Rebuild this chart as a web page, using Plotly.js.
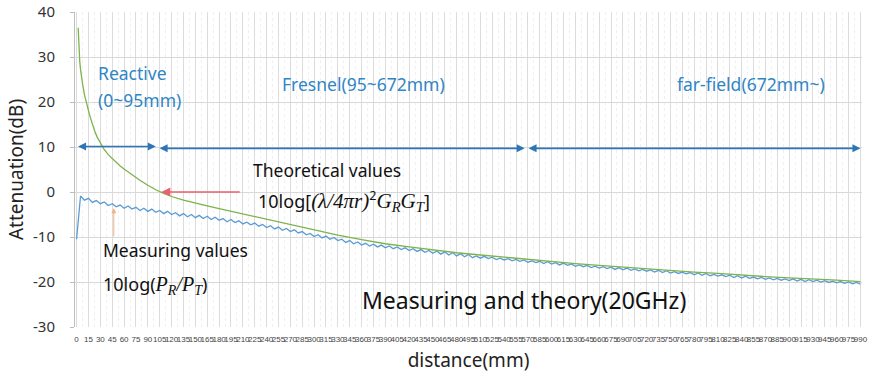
<!DOCTYPE html>
<html>
<head>
<meta charset="utf-8">
<script src="https://cdn.plot.ly/plotly-3.0.1.min.js"></script>
<style>html,body{margin:0;padding:0;background:#fff;}#chart{width:870px;height:379px;}</style>
</head>
<body>
<div id="chart"></div>
<script>
// x-axis category labels (distance, mm)
const xTickVals = [0,15,30,45,60,75,90,105,120,135,150,165,180,195,210,225,240,255,270,285,300,315,330,345,360,375,390,405,420,435,450,465,480,495,510,525,540,555,570,585,600,615,630,645,660,675,690,705,720,735,750,765,780,795,810,825,840,855,870,885,900,915,930,945,960,975,990];
const yTickVals = [40,30,20,10,0,-10,-20,-30];

// Measured values 10log(PR/PT), dB
const measDist = [0,5,10,15,20,25,30,35,40,45,50,55,60,65,70,75,80,85,90,95,100,105,110,115,120,125,130,135,140,145,150,155,160,165,170,175,180,185,190,195,200,205,210,215,220,225,230,235,240,245,250,255,260,265,270,275,280,285,290,295,300,305,310,315,320,325,330,335,340,345,350,355,360,365,370,375,380,385,390,395,400,405,410,415,420,425,430,435,440,445,450,455,460,465,470,475,480,485,490,495,500,505,510,515,520,525,530,535,540,545,550,555,560,565,570,575,580,585,590,595,600,605,610,615,620,625,630,635,640,645,650,655,660,665,670,675,680,685,690,695,700,705,710,715,720,725,730,735,740,745,750,755,760,765,770,775,780,785,790,795,800,805,810,815,820,825,830,835,840,845,850,855,860,865,870,875,880,885,890,895,900,905,910,915,920,925,930,935,940,945,950,955,960,965,970,975,980,985,990];
const measVal = [-10.5,-0.9,-1.8,-1.4,-2.3,-1.9,-2.6,-2.2,-3.0,-2.6,
-3.3,-2.9,-3.6,-3.1,-3.8,-3.4,-4.1,-3.6,-4.3,-3.8,
-4.5,-4.1,-4.8,-4.3,-5.0,-4.6,-5.3,-4.8,-5.5,-5.0,
-5.7,-5.2,-5.9,-5.4,-6.1,-5.6,-6.3,-5.9,-6.6,-6.1,
-6.8,-6.4,-7.1,-6.7,-7.3,-6.9,-7.6,-7.2,-7.9,-7.5,
-8.2,-7.8,-8.5,-8.1,-8.8,-8.4,-9.1,-8.8,-9.5,-9.2,
-9.9,-9.5,-10.2,-9.8,-10.5,-10.1,-10.8,-10.5,-11.2,-10.8,
-11.5,-11.1,-11.8,-11.4,-12.0,-11.6,-12.2,-11.8,-12.4,-12.0,
-12.6,-12.2,-12.8,-12.4,-13.0,-12.6,-13.2,-12.8,-13.4,-13.0,
-13.6,-13.1,-13.8,-13.3,-14.0,-13.5,-14.2,-13.7,-14.4,-13.9,
-14.6,-14.2,-14.7,-14.3,-14.8,-14.5,-15.0,-14.7,-15.1,-14.8,
-15.3,-15.0,-15.4,-15.1,-15.6,-15.3,-15.7,-15.4,-15.9,-15.5,
-16.0,-15.7,-16.2,-15.8,-16.3,-16.0,-16.5,-16.2,-16.6,-16.3,
-16.8,-16.5,-16.9,-16.6,-17.0,-16.7,-17.2,-16.8,-17.3,-16.9,
-17.4,-17.1,-17.5,-17.2,-17.6,-17.3,-17.8,-17.4,-17.9,-17.5,
-18.0,-17.7,-18.1,-17.8,-18.2,-17.9,-18.4,-18.0,-18.5,-18.1,
-18.6,-18.3,-18.7,-18.4,-18.8,-18.5,-19.0,-18.6,-19.1,-18.7,
-19.2,-18.9,-19.3,-19.0,-19.4,-19.1,-19.5,-19.2,-19.6,-19.3,
-19.7,-19.3,-19.8,-19.4,-19.9,-19.5,-19.9,-19.6,-20.0,-19.7,
-20.1,-19.8,-20.2,-19.9,-20.3,-20.0,-20.4,-20.1,-20.5];

// Theoretical values 10log[(λ/4πr)^2 GR GT], dB
const theoDist = [2,3,4,5,6,7,8,10,12,14,16,18,20,23,26,30,35,40,45,50,55,60,70,80,90,100,110,120,135,150,165,180,195,210,225,240,255,270,285,300,330,360,390,420,450,480,510,540,570,600,630,660,690,720,750,780,810,840,870,900,930,960,990];
const theoVal = [36.5,31.5,29.0,27.2,25.8,24.6,23.5,21.6,20.0,18.6,17.4,16.2,15.0,13.5,12.2,10.8,9.4,8.3,7.4,6.6,5.8,5.1,3.8,2.6,1.5,0.5,-0.3,-1.0,-1.8,-2.5,-3.1,-3.7,-4.3,-4.9,-5.5,-6.1,-6.7,-7.3,-7.9,-8.5,-9.6,-10.6,-11.5,-12.2,-12.9,-13.5,-14.0,-14.5,-15.0,-15.5,-15.9,-16.3,-16.7,-17.1,-17.5,-17.8,-18.1,-18.5,-18.8,-19.1,-19.3,-19.6,-19.9];

const blueTxt = '#2F86C6';
const arrowBlue = '#2E75B6';

const traces = [
  {x: measDist, y: measVal, type: 'scatter', mode: 'lines', name: 'Measuring values',
   line: {color: '#5B9BD5', width: 1.3}},
  {x: theoDist, y: theoVal, type: 'scatter', mode: 'lines', name: 'Theoretical values',
   line: {color: '#7DB24C', width: 1.3}}
];

function arr(x0, x1, y, color, w, both) {
  return {x: x1, y: y, ax: x0, ay: y, xref: 'x', yref: 'y', axref: 'x', ayref: 'y',
    text: '', showarrow: true, arrowhead: 2, startarrowhead: 2, arrowsize: 1, startarrowsize: 1,
    arrowwidth: w, arrowcolor: color, arrowside: both ? 'end+start' : 'end'};
}
function txt(x, y, t, size, color, anchor) {
  return {x: x, y: y, xref: 'x', yref: 'y', text: t, showarrow: false,
    xanchor: anchor || 'left', yanchor: 'middle',
    font: {family: 'Noto Sans, sans-serif', size: size, color: color}};
}
const serif = "font-family:'Liberation Serif',serif;font-style:italic;font-size:21px;";
const serif2 = "font-family:'Liberation Serif',serif;font-style:italic;font-size:20px;";

const annotations = [
  arr(0, 100, 10.1, arrowBlue, 1.6, true),
  arr(103, 566, 9.7, arrowBlue, 1.6, true),
  arr(569, 990, 9.7, arrowBlue, 1.6, true),
  {x: 107, y: 0, ax: 208, ay: 0, xref: 'x', yref: 'y', axref: 'x', ayref: 'y', text: '',
   showarrow: true, arrowhead: 2, arrowsize: 1.2, arrowwidth: 1.5, arrowcolor: '#E8636E'},
  {x: 47, y: -3.6, ax: 47, ay: -10.2, xref: 'x', yref: 'y', axref: 'x', ayref: 'y', text: '',
   showarrow: true, arrowhead: 2, arrowsize: 1, arrowwidth: 1, arrowcolor: '#F4B183'},
  txt(25, 26.4, 'Reactive', 17.5, blueTxt),
  txt(25, 20.4, '(0~95mm)', 17.5, blueTxt),
  txt(362, 24.0, 'Fresnel(95~672mm)', 17.5, blueTxt, 'center'),
  txt(852, 24.0, 'far-field(672mm~)', 17.5, blueTxt, 'center'),
  txt(220, 4.9, 'Theoretical values', 17.5, '#111'),
  txt(226, -2.0, '10log[<span style="' + serif + '">(λ/4πr)</span><sup>2</sup><span style="' + serif + '">G<sub>R</sub>G<sub>T</sub></span>]', 18, '#111'),
  txt(31, -12.9, 'Measuring values', 17.5, '#111'),
  txt(31, -20.6, '10log(<span style="' + serif2 + '">P<sub>R</sub>/P<sub>T</sub></span>)', 18, '#111'),
  txt(565, -24.0, 'Measuring and theory(20GHz)', 23, '#111', 'center')
];

const layout = {
  width: 870, height: 379,
  margin: {l: 75, r: 8, t: 12, b: 52},
  paper_bgcolor: '#fff', plot_bgcolor: '#fff',
  showlegend: false,
  font: {family: 'Noto Sans, sans-serif', color: '#333'},
  xaxis: {
    range: [-2, 992], tickmode: 'array', tickvals: xTickVals, ticktext: xTickVals.map(String),
    tickangle: 0, tickfont: {family: 'Liberation Sans Narrow, Liberation Sans, sans-serif', size: 8, color: '#444'},
    ticks: '', ticklabelstandoff: 6, showgrid: true, gridcolor: '#dcdcdc', gridwidth: 1, zeroline: false, showline: false,
    minor: {tickmode: 'linear', tick0: 7.5, dtick: 15, showgrid: true, gridcolor: '#f0f0f0', griddash: 'dot'},
    title: {text: 'distance(mm)', font: {size: 19, color: '#222'}, standoff: 10}
  },
  yaxis: {
    range: [-30, 40], tickmode: 'array', tickvals: yTickVals, ticktext: yTickVals.map(String),
    tickfont: {size: 15, color: '#333'}, ticks: 'outside', ticklen: 4, tickcolor: '#bbb', ticklabelstandoff: 12,
    showgrid: true, gridcolor: '#d9d9d9', zeroline: false, showline: true, linecolor: '#bfbfbf',
    title: {text: 'Attenuation(dB)', font: {size: 19, color: '#222'}, standoff: 4}
  },
  annotations: annotations
};

Plotly.newPlot('chart', traces, layout, {displayModeBar: false, staticPlot: true});
</script>
</body>
</html>
